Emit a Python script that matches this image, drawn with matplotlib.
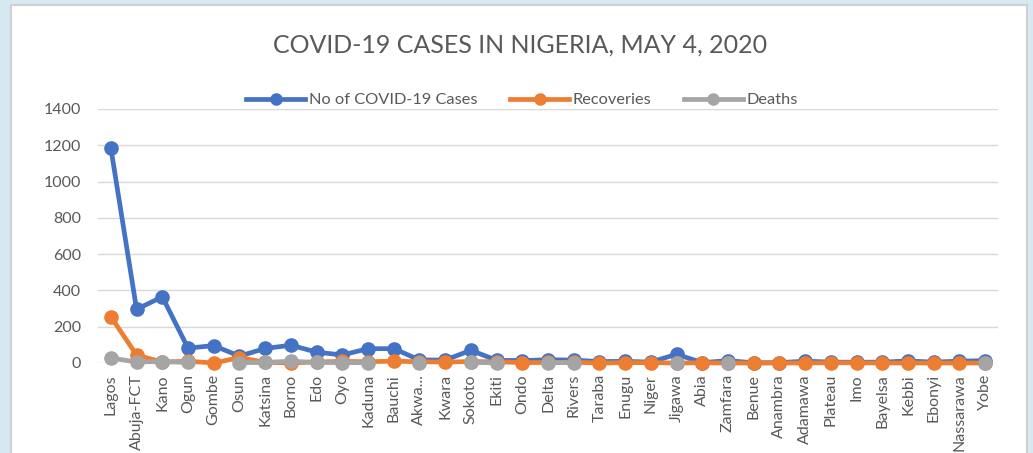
import numpy as np
import matplotlib.pyplot as plt
from matplotlib.patches import Rectangle

states = ["Lagos", "Abuja-FCT", "Kano", "Ogun", "Gombe", "Osun", "Katsina", "Borno",
          "Edo", "Oyo", "Kaduna", "Bauchi", "Akwa...", "Kwara", "Sokoto", "Ekiti",
          "Ondo", "Delta", "Rivers", "Taraba", "Enugu", "Niger", "Jigawa", "Abia",
          "Zamfara", "Benue", "Anambra", "Adamawa", "Plateau", "Imo", "Bayelsa",
          "Kebbi", "Ebonyi", "Nassarawa", "Yobe"]
cases = [1185, 296, 365, 82, 96, 38, 80, 98, 60, 44, 79, 79, 17, 16, 70, 15,
         13, 18, 16, 8, 9, 5, 48, 2, 13, 1, 2, 10, 5, 4, 5, 11, 5, 10, 13]
recoveries = [255, 44, 5, 10, 0, 30, 4, 0, 6, 9, 7, 10, 7, 5, 8, 7,
              2, 3, 4, 0, 2, 2, 0, 1, 0, 0, 0, 0, 2, 1, 0, 0, 0, 0, 0]
# None = blank cell (no deaths reported), the line breaks there
deaths = [27, 6, 8, 3, None, 2, 3, 10, 3, 2, 2, None, 1, None, 3, 1,
          None, 2, 2, None, None, None, 2, None, 1, None, None, None, None, None, None,
          None, None, None, 2]

plt.rcParams['font.family'] = ['Lato', 'DejaVu Sans']

W, H = 1033, 453
fig = plt.figure(figsize=(W / 100, H / 100), dpi=100)
fig.patch.set_facecolor('#D6E9F1')
fig.patches.append(Rectangle((11 / W, -0.01), (1027 - 11) / W, (H - 5) / H + 0.01,
                             transform=fig.transFigure, facecolor='white',
                             edgecolor='#D0D0D0', linewidth=1.5, zorder=-1))

ax = fig.add_axes([98 / W, (H - 363) / H, 900 / W, 254 / H])
ax.set_zorder(2)
ax.set_facecolor('none')
x = np.arange(len(states))
d = np.array([np.nan if v is None else v for v in deaths], dtype=float)

ax.plot(x, cases, color='#4472C4', lw=3.4, marker='o', ms=9.5, label='No of COVID-19 Cases',
        clip_on=False)
ax.plot(x, recoveries, color='#ED7D31', lw=3.4, marker='o', ms=9.5, label='Recoveries',
        clip_on=False)
ax.plot(x, d, color='#A5A5A5', lw=3.4, marker='o', ms=9.5, label='Deaths',
        clip_on=False)

ax.set_xlim(-0.5, len(states) - 0.5)
ax.set_ylim(0, 1400)
ax.set_yticks(np.arange(0, 1401, 200))
ax.set_xticks(x)
ax.set_xticklabels(states, rotation=90)
ax.tick_params(axis='both', length=0, colors='#595959', labelsize=11.5)
ax.tick_params(axis='x', pad=8)
ax.tick_params(axis='y', pad=12)
ax.grid(axis='y', color='#D9D9D9', lw=1)
ax.set_axisbelow(True)
for s in ax.spines.values():
    s.set_visible(False)

fig.text(520 / W, 1 - 45 / H, 'COVID-19 CASES IN NIGERIA, MAY 4, 2020',
         ha='center', va='center', fontsize=18, color='#595959')
leg = fig.legend(loc='center', bbox_to_anchor=(522 / W, 1 - 100 / H), ncol=3,
                 frameon=False, fontsize=11.8, labelcolor='#595959', handlelength=3.6,
                 columnspacing=2.0, handletextpad=0.2)
for h in leg.legend_handles:
    h.set_markersize(8)
leg.set_zorder(3)

fig.savefig('out.png', dpi=100)
